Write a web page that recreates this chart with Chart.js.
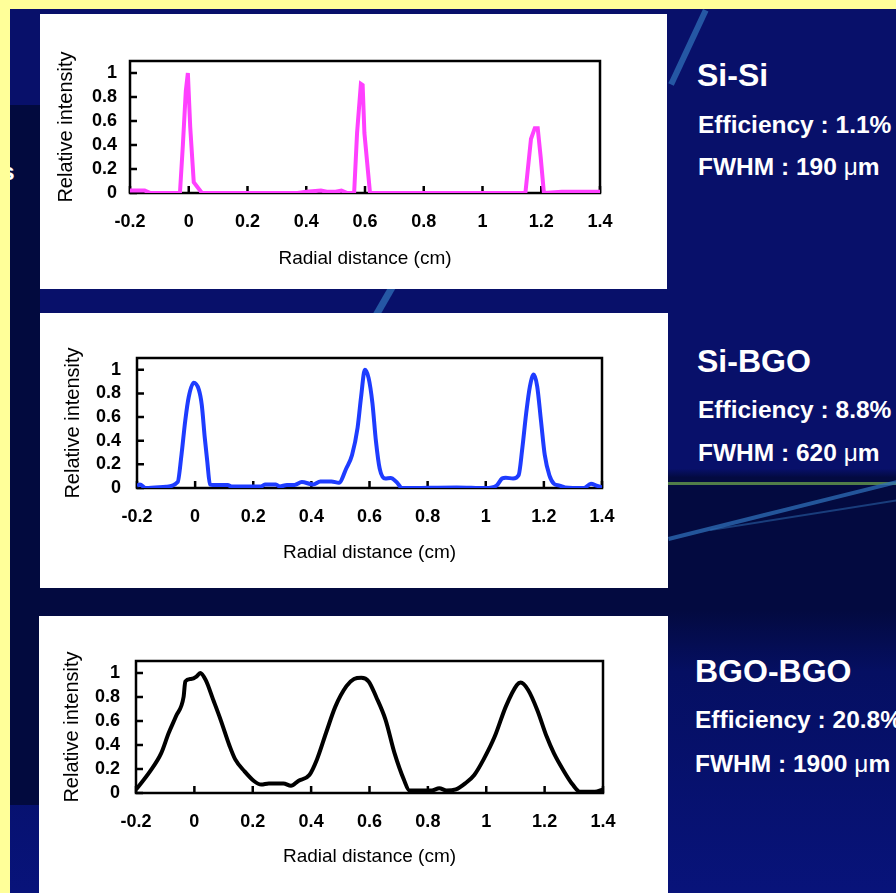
<!DOCTYPE html>
<html>
<head>
<meta charset="utf-8">
<script src="https://cdn.jsdelivr.net/npm/chart.js@4.4.0/dist/chart.umd.min.js"></script>
<style>
  body { margin: 0; background: #ffff99; width: 896px; height: 893px; overflow: hidden; font-family: 'Liberation Sans', Arial, sans-serif; }
  #slide {
    position: absolute; left: 10px; top: 9px; width: 886px; height: 884px; overflow: hidden;
    background: linear-gradient(180deg, #08106a 0%, #08106a 52%, #030a40 53%, #030a40 68%, #050f62 75%, #08137a 100%);
  }
  .strip { position: absolute; left: 0; top: 96px; width: 30px; height: 700px; background: #020a3e; }
  .streak { position: absolute; background: #2f6fb8; opacity: 0.75; transform-origin: 0 0; }
  .panel { position: absolute; background: #fff; }
  .panel canvas { position: absolute; left: 0; top: 0; }
  .head { position: absolute; color: #fff; font-weight: bold; font-size: 32px; line-height: 1; white-space: nowrap; }
  .info { position: absolute; color: #fff; font-weight: bold; font-size: 24.5px; line-height: 1; white-space: nowrap; }
  .mu { font-weight: normal; }
</style>
</head>
<body>
<div id="slide">
  <div class="strip"></div>
  <div class="streak" style="left:693px; top:0px; width:6px; height:82px; transform: rotate(25deg);"></div>
  <div class="streak" style="left:380px; top:275px; width:7px; height:40px; transform: rotate(30deg);"></div>
  <div class="streak" style="left:658px; top:473px; width:240px; height:3px; background:#5a8a4a; opacity:0.9;"></div>
  <div class="streak" style="left:658px; top:528px; width:250px; height:4px; transform: rotate(-14deg);"></div>
  <div class="streak" style="left:700px; top:520px; width:200px; height:2px; transform: rotate(-9deg); opacity:0.5;"></div>
  <div class="info" style="left:-9px; top:151px;">s</div>

  <div class="panel" style="left:30px; top:5px; width:627px; height:275px;"><canvas id="c1" width="627" height="275"></canvas></div>
  <div class="panel" style="left:30px; top:304px; width:628px; height:275px;"><canvas id="c2" width="628" height="275"></canvas></div>
  <div class="panel" style="left:29px; top:607px; width:629px; height:277px;"><canvas id="c3" width="629" height="277"></canvas></div>

  <div class="head" style="left:687px; top:50px;">Si-Si</div>
  <div class="info" style="left:688px; top:104px;">Efficiency : 1.1%</div>
  <div class="info" style="left:688px; top:146px;">FWHM : 190 <span class="mu">μ</span>m</div>

  <div class="head" style="left:687px; top:336px;">Si-BGO</div>
  <div class="info" style="left:688px; top:389px;">Efficiency : 8.8%</div>
  <div class="info" style="left:688px; top:432px;">FWHM : 620 <span class="mu">μ</span>m</div>

  <div class="head" style="left:685px; top:646px;">BGO-BGO</div>
  <div class="info" style="left:685px; top:699px;">Efficiency : 20.8%</div>
  <div class="info" style="left:685px; top:743px;">FWHM : 1900 <span class="mu">μ</span>m</div>
</div>

<script>
const xTicks = [-0.2, 0, 0.2, 0.4, 0.6, 0.8, 1, 1.2, 1.4];
const yTicks = [0, 0.2, 0.4, 0.6, 0.8, 1];

// Si-Si profile
const siSiX = [-0.2, -0.15, -0.13, -0.03, -0.02, -0.01, -0.003, 0.005, 0.017, 0.045, 0.37, 0.4, 0.45, 0.47, 0.5, 0.52, 0.54, 0.563, 0.573, 0.586, 0.592, 0.598, 0.617, 0.7, 1.146, 1.165, 1.178, 1.188, 1.198, 1.209, 1.27, 1.4];
const siSiY = [0.02, 0.02, 0, 0, 0.4, 0.85, 1.0, 0.55, 0.09, 0, 0, 0.01, 0.02, 0.01, 0.01, 0.02, 0, 0, 0.5, 0.91, 0.9, 0.5, 0, 0, 0, 0.45, 0.54, 0.54, 0.3, 0, 0.01, 0.01];

// Si-BGO profile
const siBgoX = [-0.2, -0.19, -0.17, -0.1, -0.06, -0.047, -0.034, -0.022, -0.005, 0.013, 0.023, 0.033, 0.042, 0.051, 0.061, 0.112, 0.125, 0.227, 0.24, 0.278, 0.291, 0.316, 0.342, 0.367, 0.406, 0.431, 0.469, 0.495, 0.52, 0.54, 0.559, 0.571, 0.584, 0.597, 0.61, 0.622, 0.635, 0.654, 0.673, 0.693, 0.712, 0.9, 1.0, 1.037, 1.056, 1.069, 1.094, 1.113, 1.126, 1.139, 1.152, 1.165, 1.177, 1.19, 1.203, 1.219, 1.235, 1.254, 1.273, 1.337, 1.362, 1.381, 1.4];
const siBgoY = [0.02, 0.03, 0, 0.01, 0.05, 0.28, 0.57, 0.77, 0.89, 0.83, 0.7, 0.43, 0.22, 0.03, 0.026, 0.026, 0.012, 0.012, 0.03, 0.03, 0.012, 0.026, 0.026, 0.05, 0.03, 0.055, 0.055, 0.045, 0.165, 0.28, 0.51, 0.77, 1.0, 0.93, 0.72, 0.4, 0.165, 0.08, 0.085, 0.05, 0, 0.005, 0, 0.02, 0.08, 0.087, 0.08, 0.107, 0.34, 0.63, 0.86, 0.96, 0.86, 0.57, 0.28, 0.107, 0.035, 0.02, 0.005, 0, 0.035, 0.02, 0.005];

// BGO-BGO profile
const bgoX = [-0.2, -0.152, -0.114, -0.088, -0.063, -0.037, -0.031, -0.012, 0.007, 0.02, 0.039, 0.064, 0.09, 0.121, 0.14, 0.172, 0.204, 0.229, 0.255, 0.305, 0.331, 0.356, 0.394, 0.42, 0.451, 0.483, 0.521, 0.547, 0.572, 0.597, 0.623, 0.655, 0.686, 0.718, 0.737, 0.775, 0.813, 0.839, 0.864, 0.896, 0.928, 0.959, 0.991, 1.029, 1.067, 1.105, 1.118, 1.143, 1.175, 1.207, 1.232, 1.264, 1.296, 1.321, 1.372, 1.4];
const bgoY = [0.028, 0.18, 0.33, 0.5, 0.64, 0.8, 0.93, 0.95, 0.97, 1.0, 0.94, 0.78, 0.61, 0.39, 0.28, 0.18, 0.1, 0.07, 0.08, 0.08, 0.06, 0.1, 0.15, 0.28, 0.5, 0.72, 0.89, 0.95, 0.96, 0.93, 0.8, 0.61, 0.33, 0.11, 0.02, 0.02, 0.02, 0.04, 0.02, 0.03, 0.08, 0.15, 0.28, 0.47, 0.72, 0.9, 0.92, 0.86, 0.69, 0.47, 0.33, 0.19, 0.07, 0.01, 0.01, 0.03];

const FONT = "'Liberation Sans', Arial, sans-serif";

// box around the plot + ticks pointing inward
const frameTicks = {
  id: 'frameTicks',
  beforeDatasetsDraw(chart) {
    const { ctx, chartArea: a, scales: { x, y } } = chart;
    ctx.save();
    ctx.strokeStyle = '#000';
    ctx.lineWidth = 2.5;
    ctx.strokeRect(a.left, a.top, a.right - a.left, a.bottom - a.top);
    ctx.beginPath();
    x.ticks.forEach(t => {
      const px = x.getPixelForValue(t.value);
      ctx.moveTo(px, a.bottom); ctx.lineTo(px, a.bottom - 7);
    });
    y.ticks.forEach(t => {
      const py = y.getPixelForValue(t.value);
      ctx.moveTo(a.left, py); ctx.lineTo(a.left + 7, py);
    });
    ctx.stroke();
    ctx.restore();
  }
};

function fmt(v) {
  return String(Math.round(v * 10) / 10);
}

function makeChart(id, xs, ys, color, tension, box) {
  const ctx = document.getElementById(id).getContext('2d');
  const points = xs.map((v, i) => ({ x: v, y: ys[i] }));
  return new Chart(ctx, {
    type: 'line',
    data: {
      datasets: [{
        data: points,
        borderColor: color,
        borderWidth: 4,
        pointRadius: 0,
        tension: tension,
        cubicInterpolationMode: tension ? 'monotone' : 'default',
        fill: false
      }]
    },
    options: {
      responsive: false,
      animation: false,
      layout: { padding: { top: box.top, right: box.right, left: 0, bottom: 0 } },
      plugins: { legend: { display: false }, tooltip: { enabled: false } },
      scales: {
        x: {
          type: 'linear',
          min: -0.2,
          max: 1.4,
          afterBuildTicks: s => { s.ticks = xTicks.map(v => ({ value: v })); },
          afterFit: s => { s.height = box.xh; },
          grid: { display: false, drawTicks: false },
          border: { display: false },
          ticks: { color: '#000', padding: 18, font: { family: FONT, size: 18, weight: 'bold' }, callback: fmt },
          title: { display: true, text: 'Radial distance (cm)', color: '#000', padding: { bottom: box.xt }, font: { family: FONT, size: 19 } }
        },
        y: {
          type: 'linear',
          min: 0,
          max: 1.1,
          afterBuildTicks: s => { s.ticks = yTicks.map(v => ({ value: v })); },
          afterFit: s => { s.width = box.yw; },
          grid: { display: false, drawTicks: false },
          border: { display: false },
          ticks: { color: '#000', padding: box.yp, font: { family: FONT, size: 18, weight: 'bold' }, callback: fmt },
          title: { display: true, text: 'Relative intensity', color: '#000', padding: { top: box.yt }, font: { family: FONT, size: 20 } }
        }
      }
    },
    plugins: [frameTicks]
  });
}

document.addEventListener('DOMContentLoaded', function() {
  makeChart('c1', siSiX, siSiY, '#ff40ff', 0, { top: 47, right: 67, xh: 96, xt: 19, yw: 90, yp: 13, yt: 14 });
  makeChart('c2', siBgoX, siBgoY, '#1e3cff', 0.3, { top: 45, right: 66, xh: 100, xt: 24, yw: 97, yp: 16, yt: 21 });
  makeChart('c3', bgoX, bgoY, '#000', 0.3, { top: 45, right: 65, xh: 100, xt: 25, yw: 97, yp: 16, yt: 21 });
});
</script>
</body>
</html>
